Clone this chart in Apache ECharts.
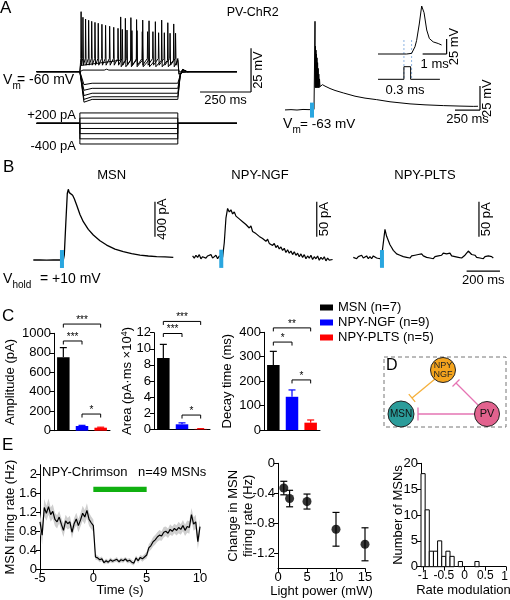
<!DOCTYPE html>
<html><head><meta charset="utf-8">
<script src="https://cdn.jsdelivr.net/npm/echarts@6/dist/echarts.min.js"></script>
<style>html,body{margin:0;padding:0;background:#fff;overflow:hidden}#c{width:510px;height:600px}</style>
</head><body><div id="c"></div>
<script>
// ================= DATA =================
// Panel A (left): current-step protocol
const stepCurrents = [200, 100, 0, -100, -200, -300, -400]; // pA
const stepOn = 220, stepOff = 700;                            // ms
const baselineV = -60;                                         // mV
const hyperLevels = [-66.6, -69.5, -72.3, -74.3, -75.8];       // steady state (mV)
const hyperPeaks  = [-67.4, -70.6, -73.6, -75.8, -77.4];       // initial peak (mV)
const train1Times = [226,235,248,263,278,294,310,328,346,366,386,407,428,451,475,500,526,552,578,606,634,662,689];
const train1Peaks = [-25.8,-29.0,-30.0,-30.7,-31.3,-31.9,-32.4,-33.0,-33.6,-34.1,-34.7,-35.3,-35.9,-36.3,-36.6,-36.6,-37.2,-37.2,-37.2,-37.8,-37.8,-38.1,-38.1];
const train2Times = [420,443,470,498,528,559,590,621,651,680];
const train2Peaks = [-28.8,-29.6,-29.2,-30.3,-30.6,-31.0,-31.5,-30.6,-32.1,-32.8];
const subT = [8,220,235,340,351,362,700,712,990];
const subV = [-60,-60,-59.1,-59.1,-58.6,-59.1,-59.1,-60,-60];

// Panel A (right): PV-ChR2 response
const aRightT = [0,60,120,180,240,290,300,302,305,307,310,312,315,317,320,323,326,329,332,335,338,342,345,350,360,375,400,450,500,583,700,800,917,1050,1250,1400,1583,1750,1883,1930];
const aRightV = [-63.3,-63.0,-63.4,-62.8,-63.0,-62.8,29,-40,3,-40,-1,-40,-5,-40,-9,-40,-14,-40,-20,-40,-26,-40,-31,-39,-37.5,-37,-38.5,-41,-43,-45.6,-49,-51,-52.6,-54.8,-57,-58,-58.8,-59.3,-59.6,-59.5];
const aRightLight = [250, 290];
// inset
const insetT = [0,1.19,1.40,1.47,1.54,1.61,1.72,1.82,1.92,2.03,2.14,2.30,2.51,2.65];
const insetV = [-63,-63,-62,-59.2,-51,-40.3,-13,17,5.8,-23,-37.2,-42.8,-45.5,-48];
const pulseT = [0,1.08,1.08,1.36,1.36,2.58];
const pulseV = [0,0,1,1,0,0];

// Panel B: IPSCs (t in ms from light onset, I in pA)
const msnT = [-160,-120,-80,-40,0,20,26,35,44,50,56,62,68,76,86,100,120,140,170,200,240,280,330,380,430,480,530,580,630,680];
const msnI = [0,2,-1,1,0,0,60,420,760,808,770,785,760,740,700,629,520,438,350,286,220,171,125,95,72,57,46,38,36,31];
const sweepStart = -160, sweepDt = 10;
const ngfI = [1,-2,2,-1,3,-3,0,2,-2,1,-1,3,-2,0,2,-3,1,0,-1,
  20,55,69,64,67,61,64,58,60,54,56,50,52,46,48,41,44,36,38,33,35,29,31,26,27,22,25,19,21,16,19,13,16,11,14,9,12,6,10,5,8,3,7,2,5,0,4,-1,3,-3,1,-2,2,-4,0,-3,1,-5,-1,-4,0,-6,-2,-5,-3,-4];
const pltsI = [0,2,-2,1,-1,3,-1,0,2,-2,1,-2,2,0,-1,1,-2,1,0,
  40,30,24,18,14,10,8,5,6,3,4,1,3,0,2,-1,2,0,3,1,4,3,5,2,3,0,2,-1,1,-2,1,-1,2,0,3,6,4,5,3,6,2,4,1,3,0,2,-1,1,3,6,9,7,4,2,3,0,2,-1,1,-2,1,-1,2,0,1,-1];
const lightB = [0, 24];

// Panel C
const cellTypes = ['MSN (n=7)', 'NPY-NGF (n=9)', 'NPY-PLTS (n=5)'];
const cellColors = ['#000000', '#0000ff', '#ff0000'];
const ampMean = [755, 48, 31],   ampSem = [98, 7, 5];
const areaMean = [8.85, 0.62, 0.05], areaSem = [1.7, 0.18, 0.03];
const decayMean = [266, 136, 30], decaySem = [56, 28, 11];
const ampSig   = [[0,2,1095,'***'],[0,1,921,'***'],[1,2,171,'*']];
const areaSig  = [[0,2,13.4,'***'],[0,1,11.9,'***'],[1,2,1.77,'*']];
const decaySig = [[0,2,418,'**'],[0,1,360,'*'],[1,2,205,'*']];

// Panel E
const firingT0 = -5, firingDt = 0.2;
const firingRate = [1.00,0.72,1.30,1.18,1.32,1.15,1.22,1.05,1.00,1.10,0.95,0.82,1.02,0.96,1.00,0.78,0.96,1.06,0.92,1.04,1.18,1.10,1.24,1.05,0.98,0.92,
  0.26,0.24,0.20,0.22,0.14,0.18,0.15,0.20,0.17,0.19,0.21,0.16,0.20,0.18,0.22,0.17,0.19,0.15,0.13,0.24,0.18,0.25,0.22,0.26,0.30,
  0.45,0.50,0.58,0.62,0.68,0.72,0.70,0.78,0.80,0.76,0.84,0.80,0.86,0.82,0.88,0.84,0.92,0.82,0.90,0.88,1.15,0.95,1.00,0.58,0.90];
const firingSem = [0.18,0.2,0.18,0.16,0.17,0.15,0.15,0.14,0.14,0.13,0.13,0.14,0.13,0.12,0.13,0.13,0.12,0.13,0.14,0.14,0.16,0.15,0.15,0.14,0.13,0.13,
  0.06,0.05,0.05,0.05,0.04,0.05,0.04,0.05,0.04,0.04,0.05,0.04,0.05,0.04,0.04,0.05,0.05,0.05,0.05,0.05,0.05,0.05,0.06,0.06,0.07,
  0.08,0.09,0.1,0.1,0.1,0.11,0.1,0.11,0.1,0.1,0.11,0.1,0.1,0.11,0.12,0.11,0.12,0.12,0.13,0.13,0.14,0.14,0.15,0.15,0.16];
const lightE = [0, 5, 1.63, 1.74];
const lightPower = [1, 2, 5, 10, 15];
const rateChange = [-0.33, -0.47, -0.51, -0.88, -1.08];
const rateChangeSem = [0.09, 0.11, 0.10, 0.225, 0.22];
const rateModBins = [-1.0,-0.9,-0.8,-0.7,-0.6,-0.5,-0.4,-0.3,-0.2,-0.1,0,0.1,0.2,0.3];
const rateModCounts = [18,11,3,3,5,2,3,2,0,1,0,0,0,1];
const rateModTicks = [-1, -0.5, 0, 0.5, 1];

// ================= CHART =================
const FONT = '"Liberation Sans", Arial, Helvetica, sans-serif';
const BLUE_LIGHT = '#2aa6df';
const chart = echarts.init(document.getElementById('c'), null, {renderer: 'canvas', width: 510, height: 600});

const grids = [
  {left: 35, top: 5, width: 204, height: 100},        // 0 A left V
  {left: 35, top: 110, width: 204, height: 40},       // 1 A left I
  {left: 285, top: 5, width: 195, height: 115.2},     // 2 A right V
  {left: 378, top: 0, width: 64, height: 60},         // 3 inset spike
  {left: 378, top: 66.7, width: 64, height: 12.6},    // 4 inset pulse
  {left: 33.3, top: 185, width: 140, height: 85},     // 5 B MSN
  {left: 192.6, top: 185, width: 140, height: 85},    // 6 B NGF
  {left: 353.3, top: 185, width: 140, height: 85},    // 7 B PLTS
  {left: 54, top: 333.3, width: 56, height: 97.4},    // 8 C amp
  {left: 154, top: 332.7, width: 56, height: 96.6},   // 9 C area
  {left: 264, top: 332.3, width: 56, height: 97.7},   // 10 C decay
  {left: 40, top: 464.8, width: 160, height: 104.5},  // 11 E firing
  {left: 278, top: 463.3, width: 87, height: 105},    // 12 E light power
  {left: 421, top: 463.3, width: 85, height: 103.4}   // 13 E histogram
].map(g => Object.assign({outerBoundsMode: 'none', containLabel: false}, g));

const axLine = {show: true, onZero: false, lineStyle: {color: '#000', width: 1}};
const axTick = {show: true, length: 4, inside: false, lineStyle: {color: '#000', width: 1}};
const axLabel = {color: '#000', fontSize: 13, fontFamily: FONT, margin: 3, formatter: v => String(v), hideOverlap: false, showMaxLabel: true, showMinLabel: true};
const nameStyle = {color: '#000', fontSize: 13, fontFamily: FONT};
const hidden = (gi, min, max) => ({type: 'value', gridIndex: gi, min, max, show: false, axisLine: {onZero: false}, splitLine: {show: false}});

const xAxes = [
  hidden(0, 0, 1000), hidden(1, 0, 1000), hidden(2, 0, 1950), hidden(3, 0, 2.667), hidden(4, 0, 2.667),
  hidden(5, -160, 680), hidden(6, -160, 680), hidden(7, -160, 680),
  ...[8, 9, 10].map(gi => ({type: 'category', gridIndex: gi, data: ['MSN', 'NGF', 'PLTS'], axisLine: axLine, axisTick: {show: false}, axisLabel: {show: false}, splitLine: {show: false}})),
  {type: 'value', gridIndex: 11, min: -5, max: 10, interval: 5, axisLine: axLine, axisTick: axTick, axisLabel: axLabel, splitLine: {show: false},
    name: 'Time (s)', nameLocation: 'middle', nameGap: 15, nameTextStyle: nameStyle, nameMoveOverlap: false},
  {type: 'value', gridIndex: 12, min: 0, max: 15, interval: 5, axisLine: axLine, axisTick: axTick, axisLabel: axLabel, splitLine: {show: false},
    name: 'Light power (mW)', nameLocation: 'middle', nameGap: 17, nameTextStyle: nameStyle, nameMoveOverlap: false},
  {type: 'value', gridIndex: 13, min: -1.05, max: 1, axisLine: axLine,
    axisTick: Object.assign({}, axTick, {customValues: rateModTicks}),
    axisLabel: Object.assign({}, axLabel, {customValues: rateModTicks.slice(0, 4), fontSize: 12}), splitLine: {show: false},
    name: 'Rate modulation', nameLocation: 'middle', nameGap: 17, nameTextStyle: nameStyle, nameMoveOverlap: false}
];

const yAxes = [
  hidden(0, -79, -22), hidden(1, -516, 257), hidden(2, -74, 46), hidden(3, -73, 27), hidden(4, 0, 1),
  hidden(5, -114, 857), hidden(6, -19, 102.4), hidden(7, -18.1, 103.3),
  {type: 'value', gridIndex: 8, min: 0, max: 1000, interval: 200, axisLine: axLine, axisTick: axTick, axisLabel: axLabel, splitLine: {show: false},
    name: 'Amplitude (pA)', nameLocation: 'middle', nameGap: 37, nameTextStyle: nameStyle, nameMoveOverlap: false},
  {type: 'value', gridIndex: 9, min: 0, max: 12, interval: 2, axisLine: axLine, axisTick: axTick, axisLabel: axLabel, splitLine: {show: false},
    name: 'Area (pA·ms ×10{s|4})', nameLocation: 'middle', nameGap: 19, nameMoveOverlap: false,
    nameTextStyle: Object.assign({}, nameStyle, {rich: {s: {fontSize: 9, fontFamily: FONT, color: '#000', verticalAlign: 'top', padding: [0, 0, 6, 0]}}})},
  {type: 'value', gridIndex: 10, min: 0, max: 400, interval: 100, axisLine: axLine, axisTick: axTick, axisLabel: axLabel, splitLine: {show: false},
    name: 'Decay time (ms)', nameLocation: 'middle', nameGap: 30, nameTextStyle: nameStyle, nameMoveOverlap: false},
  {type: 'value', gridIndex: 11, min: 0, max: 2.2, axisLine: axLine,
    axisTick: Object.assign({}, axTick, {customValues: [0, 0.4, 0.8, 1.2, 1.6, 2]}),
    axisLabel: Object.assign({}, axLabel, {customValues: [0, 0.4, 0.8, 1.2, 1.6, 2]}), splitLine: {show: false},
    name: 'MSN firing rate (Hz)', nameLocation: 'middle', nameGap: 23, nameTextStyle: nameStyle, nameMoveOverlap: false},
  {type: 'value', gridIndex: 12, min: -1.4, max: 0, axisLine: axLine,
    axisTick: Object.assign({}, axTick, {customValues: [0, -0.4, -0.8, -1.2]}),
    axisLabel: Object.assign({}, axLabel, {customValues: [0, -0.4, -0.8, -1.2]}), splitLine: {show: false},
    name: 'Change in MSN\nfiring rate (Hz)', nameLocation: 'middle', nameGap: 22, nameTextStyle: Object.assign({}, nameStyle, {lineHeight: 15}), nameMoveOverlap: false},
  {type: 'value', gridIndex: 13, min: 0, max: 20, interval: 5, axisLine: axLine, axisTick: axTick, axisLabel: axLabel, splitLine: {show: false},
    name: 'Number of MSNs', nameLocation: 'middle', nameGap: 16, nameTextStyle: nameStyle, nameMoveOverlap: false}
];

// ---------- trace builders ----------
const series = [];
function trace(gi, pts, width, color) {
  series.push({type: 'line', xAxisIndex: gi, yAxisIndex: gi, data: pts, symbol: 'none', clip: false, silent: true,
    lineStyle: {color: color || '#000', width: width || 1}, z: 2});
}
function spikeTrain(times, peaks, plateau, preV, troughV) {
  const pts = [[8, baselineV], [stepOn, baselineV], [stepOn + 3, plateau]];
  times.forEach((t, i) => { pts.push([t - 1.5, preV], [t, peaks[i]], [t + 2.5, troughV]); });
  pts.push([stepOff, preV], [stepOff + 6, baselineV - 1.5], [stepOff + 20, baselineV - 0.4], [stepOff + 60, baselineV], [990, baselineV]);
  return pts;
}
function hyperTrace(level, peak) {
  return [[8, baselineV], [stepOn, baselineV], [stepOn + 20, peak], [stepOn + 60, level], [stepOff, level],
    [stepOff + 12, baselineV - 2], [stepOff + 24, baselineV + 1.2], [stepOff + 45, baselineV], [990, baselineV]];
}
const zip = (a, b) => a.map((v, i) => [v, b[i]]);
const sweep = arr => arr.map((v, i) => [sweepStart + i * sweepDt, v]);

// A left
hyperLevels.forEach((lv, i) => trace(0, hyperTrace(lv, hyperPeaks[i])));
trace(0, zip(subT, subV));
trace(0, spikeTrain(train2Times, train2Peaks, -56.5, -53.5, -57.2));
trace(0, spikeTrain(train1Times, train1Peaks, -55, -52.5, -56.3));
stepCurrents.forEach(I => trace(1, [[8, 0], [stepOn, 0], [stepOn, I], [stepOff, I], [stepOff, 0], [990, 0]]));
// A right
trace(2, zip(aRightT, aRightV));
trace(3, zip(insetT, insetV));
trace(4, zip(pulseT, pulseV));
// B
trace(5, zip(msnT, msnI), 1.3);
trace(6, sweep(ngfI), 1.2);
trace(7, sweep(pltsI), 1.2);

// light boxes
function lightBox(gi, x0, x1, y0, y1) {
  series.push({type: 'custom', xAxisIndex: gi, yAxisIndex: gi, data: [[x0, x1, y0, y1]], z: 5, silent: true,
    renderItem: (p, api) => {
      const a = api.coord([api.value(0), api.value(3)]), b = api.coord([api.value(1), api.value(2)]);
      return {type: 'rect', shape: {x: a[0], y: a[1], width: Math.max(b[0] - a[0], 3.5), height: b[1] - a[1]}, style: {fill: BLUE_LIGHT}};
    }});
}
lightBox(2, aRightLight[0], aRightLight[1], -71.3, -55.7);
lightBox(5, lightB[0], lightB[1], -91, 114);
lightBox(6, lightB[0], lightB[1], -16, 10);
lightBox(7, lightB[0], lightB[1], -15, 10.4);

// scale bars
function scaleBar(gi, x, y, dx, dy, xText, yText, xOff, yOff) {
  series.push({type: 'custom', xAxisIndex: gi, yAxisIndex: gi, data: [[x, y, dx, dy]], z: 5, silent: true, clip: false,
    renderItem: (p, api) => {
      const c = api.coord([x, y]); const ch = [];
      if (dx) {
        const l = api.coord([x - dx, y]);
        ch.push({type: 'line', shape: {x1: l[0], y1: c[1], x2: c[0], y2: c[1]}, style: {stroke: '#000', lineWidth: 1.2}});
        if (xText) ch.push({type: 'text', x: (l[0] + c[0]) / 2, y: c[1] + (xOff || 2),
          style: {text: xText, fill: '#000', fontSize: 13, fontFamily: FONT, align: 'center', verticalAlign: 'top'}});
      }
      if (dy) {
        const u = api.coord([x, y + dy]);
        ch.push({type: 'line', shape: {x1: c[0], y1: c[1], x2: c[0], y2: u[1]}, style: {stroke: '#000', lineWidth: 1.2}});
        if (yText) ch.push({type: 'text', x: c[0] + (yOff || 7.5), y: (c[1] + u[1]) / 2, rotation: Math.PI / 2,
          style: {text: yText, fill: '#000', fontSize: 13, fontFamily: FONT, align: 'center', verticalAlign: 'middle'}});
      }
      return {type: 'group', children: ch};
    }});
}
scaleBar(0, 1059, -71.6, 250, 25, '250 ms', '25 mV', 2, 7.5);
scaleBar(2, 1950, -63.5, 250, 25, '250 ms', '25 mV', 3, 7.5);
scaleBar(3, 2.86, -63, 1, 25, '1 ms', '25 mV', 4, 8);
scaleBar(5, 570, 266, 0, 400, '', '400 pA');
scaleBar(6, 585, 28.6, 0, 50, '', '50 pA');
scaleBar(7, 594, 29.4, 0, 50, '', '50 pA');
scaleBar(7, 720, -19.6, 200, 0, '200 ms', '', 3);

// inset dashed guides
series.push({type: 'custom', xAxisIndex: 4, yAxisIndex: 4, data: [[pulseT[1]], [1.40]], z: 1, silent: true, clip: false,
  renderItem: (p, api) => {
    const c = api.coord([api.value(0), 0]);
    return {type: 'line', shape: {x1: c[0], y1: 40, x2: c[0], y2: 80}, style: {stroke: '#8db4e2', lineWidth: 1, lineDash: [2, 2]}};
  }});

// Panel C bars + error bars + brackets
function barPanel(gi, means, sems, sigs) {
  cellTypes.forEach((name, k) => {
    series.push({type: 'bar', name, xAxisIndex: gi, yAxisIndex: gi, barWidth: 12.5, barGap: '-100%',
      data: means.map((m, i) => i === k ? m : '-'), itemStyle: {color: cellColors[k]}, silent: true});
  });
  series.push({type: 'custom', xAxisIndex: gi, yAxisIndex: gi, data: means.map((m, i) => [i, m, m + sems[i]]), z: 3, silent: true,
    renderItem: (p, api) => {
      const i = api.value(0); const a = api.coord([i, api.value(1)]), b = api.coord([i, api.value(2)]); const col = cellColors[i];
      return {type: 'group', children: [
        {type: 'line', shape: {x1: a[0], y1: a[1], x2: b[0], y2: b[1]}, style: {stroke: col, lineWidth: 1.2}},
        {type: 'line', shape: {x1: b[0] - 3.5, y1: b[1], x2: b[0] + 3.5, y2: b[1]}, style: {stroke: col, lineWidth: 1.2}}]};
    }});
  series.push({type: 'custom', xAxisIndex: gi, yAxisIndex: gi, data: sigs.map(s => [s[0], s[1], s[2]]), z: 3, silent: true, clip: false,
    renderItem: (p, api) => {
      const a = api.coord([api.value(0), api.value(2)]), b = api.coord([api.value(1), api.value(2)]);
      const lab = sigs[p.dataIndex][3];
      return {type: 'group', children: [
        {type: 'polyline', shape: {points: [[a[0], a[1] + 3.5], [a[0], a[1]], [b[0], b[1]], [b[0], b[1] + 3.5]]}, style: {stroke: '#000', lineWidth: 1, fill: 'none'}},
        {type: 'text', x: (a[0] + b[0]) / 2, y: a[1] + 1, style: {text: lab, fill: '#000', fontSize: 10, fontFamily: FONT, align: 'center', verticalAlign: 'bottom'}}]};
    }});
}
barPanel(8, ampMean, ampSem, ampSig);
barPanel(9, areaMean, areaSem, areaSig);
barPanel(10, decayMean, decaySem, decaySig);

// Panel E: firing rate band, line, light bar
series.push({type: 'custom', xAxisIndex: 11, yAxisIndex: 11, data: [[0]], z: 1, silent: true,
  renderItem: (p, api) => {
    const up = firingRate.map((v, i) => api.coord([firingT0 + i * firingDt, v + firingSem[i]]));
    const lo = firingRate.map((v, i) => api.coord([firingT0 + i * firingDt, v - firingSem[i]])).reverse();
    return {type: 'polygon', shape: {points: up.concat(lo)}, style: {fill: '#cfcfcf'}};
  }});
trace(11, firingRate.map((v, i) => [firingT0 + i * firingDt, v]), 1.2);
series.push({type: 'custom', xAxisIndex: 11, yAxisIndex: 11, data: [lightE], z: 3, silent: true,
  renderItem: (p, api) => {
    const a = api.coord([api.value(0), api.value(3)]), b = api.coord([api.value(1), api.value(2)]);
    return {type: 'rect', shape: {x: a[0], y: a[1], width: b[0] - a[0], height: b[1] - a[1]}, style: {fill: '#10b010'}};
  }});
// light power scatter with error bars
series.push({type: 'custom', xAxisIndex: 12, yAxisIndex: 12, data: lightPower.map((x, i) => [x, rateChange[i] - rateChangeSem[i], rateChange[i] + rateChangeSem[i]]), z: 2, silent: true,
  renderItem: (p, api) => {
    const lo = api.coord([api.value(0), api.value(1)]), hi = api.coord([api.value(0), api.value(2)]);
    return {type: 'group', children: [
      {type: 'line', shape: {x1: lo[0], y1: lo[1], x2: hi[0], y2: hi[1]}, style: {stroke: '#000', lineWidth: 1.2}},
      {type: 'line', shape: {x1: lo[0] - 3.5, y1: lo[1], x2: lo[0] + 3.5, y2: lo[1]}, style: {stroke: '#000', lineWidth: 1.2}},
      {type: 'line', shape: {x1: hi[0] - 3.5, y1: hi[1], x2: hi[0] + 3.5, y2: hi[1]}, style: {stroke: '#000', lineWidth: 1.2}}]};
  }});
series.push({type: 'scatter', xAxisIndex: 12, yAxisIndex: 12, data: zip(lightPower, rateChange), symbol: 'circle', symbolSize: 9,
  itemStyle: {color: '#000'}, z: 3, silent: true});
// histogram
series.push({type: 'custom', xAxisIndex: 13, yAxisIndex: 13, data: zip(rateModBins, rateModCounts), z: 2, silent: true,
  renderItem: (p, api) => {
    const x = api.value(0), c = api.value(1); if (!c) return null;
    const a = api.coord([x - 0.05, c]), b = api.coord([x + 0.05, 0]);
    return {type: 'rect', shape: {x: a[0], y: a[1], width: b[0] - a[0], height: b[1] - a[1]}, style: {fill: '#fff', stroke: '#000', lineWidth: 1}};
  }});

// ---------- static text & diagram ----------
const T = (x, y, text, size, extra) => Object.assign({type: 'text', x, y, silent: true,
  style: Object.assign({text, fill: '#000', fontSize: size || 13, fontFamily: FONT, align: 'left', verticalAlign: 'middle'}, (extra || {}))});
const graphics = [
  T(0, 8, 'A', 17), T(226.7, 13, 'PV-ChR2', 12.5),
  T(3, 80, 'V', 14), T(12.5, 86, 'm', 10), T(17, 80, '= -60 mV', 14),
  T(76, 115, '+200 pA', 13, {align: 'right'}), T(76, 146, '-400 pA', 13, {align: 'right'}),
  T(283, 124, 'V', 14), T(292.5, 130, 'm', 10), T(300, 124, '= -63 mV', 13.5),
  T(405, 90, '0.3 ms', 13, {align: 'center'}),
  T(3, 167, 'B', 17),
  T(111.7, 175, 'MSN', 13, {align: 'center'}), T(260, 175, 'NPY-NGF', 13, {align: 'center'}), T(425, 175, 'NPY-PLTS', 13, {align: 'center'}),
  T(3, 279, 'V', 14), T(12.5, 285, 'hold', 10), T(40, 279, '= +10 mV', 14),
  T(2, 316, 'C', 17),
  T(2, 445, 'E', 17),
  T(42, 472.5, 'NPY-Chrimson', 13), T(138, 472.5, 'n=49 MSNs', 13),
  // last histogram x tick label at the right edge
  T(508, 577, '1', 12, {align: 'right'}),
  // Panel D
  {type: 'rect', shape: {x: 384, y: 357, width: 122, height: 70}, style: {fill: 'none', stroke: '#777', lineWidth: 1, lineDash: [4, 3]}, silent: true},
  T(386, 366, 'D', 16),
  {type: 'line', shape: {x1: 435, y1: 379, x2: 412, y2: 398}, style: {stroke: '#f5b03c', lineWidth: 1.3}, silent: true},
  {type: 'line', shape: {x1: 408.8, y1: 394.2, x2: 415.2, y2: 401.8}, style: {stroke: '#f5b03c', lineWidth: 1.3}, silent: true},
  {type: 'line', shape: {x1: 478, y1: 405, x2: 456, y2: 383}, style: {stroke: '#e574b3', lineWidth: 1.3}, silent: true},
  {type: 'line', shape: {x1: 452.5, y1: 386.5, x2: 459.5, y2: 379.5}, style: {stroke: '#e574b3', lineWidth: 1.3}, silent: true},
  {type: 'line', shape: {x1: 475, y1: 414, x2: 418, y2: 414}, style: {stroke: '#e574b3', lineWidth: 1.3}, silent: true},
  {type: 'line', shape: {x1: 418, y1: 407.5, x2: 418, y2: 420.5}, style: {stroke: '#e574b3', lineWidth: 1.3}, silent: true},
  {type: 'circle', shape: {cx: 443, cy: 370, r: 12.5}, style: {fill: '#f4a41e', stroke: '#222', lineWidth: 1}, silent: true},
  {type: 'circle', shape: {cx: 401, cy: 414, r: 13}, style: {fill: '#2b9c9a', stroke: '#222', lineWidth: 1}, silent: true},
  {type: 'circle', shape: {cx: 487, cy: 414, r: 12.5}, style: {fill: '#e2628e', stroke: '#222', lineWidth: 1}, silent: true},
  T(443, 365.5, 'NPY', 9, {align: 'center', fill: '#222'}), T(443, 375, 'NGF', 9, {align: 'center', fill: '#222'}),
  T(401, 414, 'MSN', 10, {align: 'center', fill: '#111'}), T(487, 414, 'PV', 11, {align: 'center', fill: '#111'})
];

chart.setOption({
  animation: false,
  textStyle: {fontFamily: FONT},
  grid: grids, xAxis: xAxes, yAxis: yAxes, series,
  legend: {data: cellTypes, orient: 'vertical', left: 320, top: 301, itemWidth: 13, itemHeight: 6, itemGap: 2, icon: 'rect',
    selectedMode: false, textStyle: {fontSize: 13, color: '#000', fontFamily: FONT}, padding: 0},
  graphic: graphics
});
</script></body></html>
